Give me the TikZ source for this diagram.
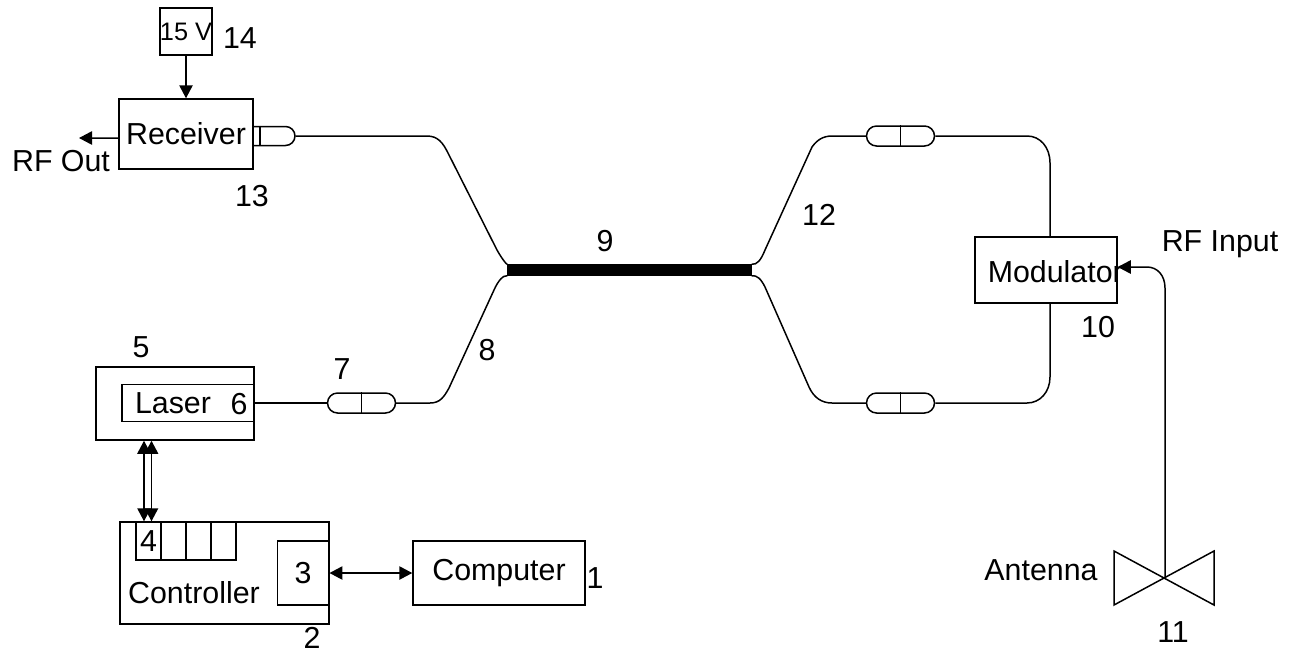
\documentclass[tikz,border=0pt]{standalone}
\usepackage{fontspec}
\setmainfont{Liberation Sans}
\usetikzlibrary{arrows.meta,shapes.misc}
\begin{document}
\begin{tikzpicture}[
  x=0.02cm, y=-0.02cm,
  line width=0.85pt,
  >={Triangle[length=7.4pt,width=7.6pt]},
  font=\LARGE,
  block/.style={rectangle, draw, inner sep=0pt},
  coupler/.style={rounded rectangle, draw, inner sep=0pt, minimum width=1.36cm, minimum height=0.4cm},
  lbl/.style={inner sep=0pt}
]
\useasboundingbox (0,0) rectangle (1290,653);

\node[block, minimum width=1cm, minimum height=0.94cm, font=\Large] (supply) at (186,31.5) {15 V};
\node[block, minimum width=2.68cm, minimum height=1.4cm] (recv) at (186,134) {Receiver};
\node[rounded rectangle, rounded rectangle left arc=none, draw, inner sep=0pt, minimum width=0.84cm, minimum height=0.38cm] (plug) at (274,136) {};
\node[block, minimum width=3.16cm, minimum height=1.46cm] (housing) at (175,403.5) {};
\node[block, minimum width=2.64cm, minimum height=0.74cm] (laser) at (188,403) {};
\node[coupler] (coupa) at (361.5,403) {};
\node[coupler] (coupb) at (900.5,136) {};
\node[coupler] (coupc) at (900.5,403) {};
\node[block, fill=black, minimum width=4.86cm, minimum height=0.2cm] (bar) at (629.5,270) {};
\node[block, minimum width=2.84cm, minimum height=1.32cm] (mod) at (1046,270) {};
\node[block, minimum width=4.18cm, minimum height=2.04cm] (ctrl) at (224.5,573) {};
\node[block, minimum width=1.03cm, minimum height=1.28cm] (port) at (303,573) {3};
\node[block, minimum width=0.5cm, minimum height=0.76cm] (slota) at (148.5,541) {4};
\node[block, minimum width=0.5cm, minimum height=0.76cm] (slotb) at (173.5,541) {};
\node[block, minimum width=0.5cm, minimum height=0.76cm] (slotc) at (198.5,541) {};
\node[block, minimum width=0.5cm, minimum height=0.76cm] (slotd) at (223.5,541) {};
\node[block, minimum width=3.44cm, minimum height=1.28cm] (comp) at (499,573) {Computer};

\node[lbl] (l14) at (240,38) {14};
\node[lbl] (l13) at (252,196) {13};
\node[lbl] (rfout) at (61,161) {RF Out};
\node[lbl] (l5) at (141,347) {5};
\node[lbl] (lasertxt) at (173,403) {Laser};
\node[lbl] (l6) at (239,404) {6};
\node[lbl] (l7) at (342,369) {7};
\node[lbl] (l8) at (487,350) {8};
\node[lbl] (l9) at (605,241) {9};
\node[lbl] (l12) at (819,215) {12};
\node[lbl, anchor=west] (modtxt) at (987,272) {Modulator};
\node[lbl] (l10) at (1098,327) {10};
\node[lbl] (rfin) at (1220,244) {RF Input};
\node[lbl] (anttxt) at (1041,570) {Antenna};
\node[lbl] (l11) at (1173,632) {11};
\node[lbl] (ctrltxt) at (194,593) {Controller};
\node[lbl] (l2) at (312,638) {2};
\node[lbl] (l1) at (595,578) {1};

\coordinate (out) at (79,138);
\coordinate (ant) at (1165,578);

\draw[->] (supply) -- (supply |- recv.north);
\draw[->] ([yshift=-0.08cm]recv.west) -- (out);
\draw ([xshift=-0.28cm]plug.north) -- ([xshift=-0.28cm]plug.south);
\draw (coupa.north) -- (coupa.south);
\draw (coupb.north) -- (coupb.south);
\draw (coupc.north) -- (coupc.south);

\draw (plug.east) -- (427,136) .. controls (438,136) and (443,143) .. (448,153) -- (497,250) .. controls (502,259) and (507,265) .. (bar.north west);
\draw (laser.east) -- (coupa.west);
\draw (coupa.east) -- (430,403) .. controls (440,403) and (444,397) .. (449,388) -- (494,290) .. controls (498,281) and (503,275) .. (bar.south west);
\draw (bar.north east) .. controls (757,265) and (761,260) .. (765,250) -- (812,147) .. controls (817,140) and (823,136) .. (832,136) -- (coupb.west);
\draw (coupb.east) -- (1027,136) .. controls (1040,136) and (1050,147) .. (1050,163) -- ([xshift=0.08cm]mod.north);
\draw (bar.south east) .. controls (757,275) and (761,279) .. (765,287) -- (809,387) .. controls (814,398) and (822,403) .. (832,403) -- (coupc.west);
\draw (coupc.east) -- (1027,403) .. controls (1040,403) and (1050,392) .. (1050,377) -- ([xshift=0.08cm]mod.south);

\draw[<->] ([xshift=-0.09cm]slota.north |- housing.south) -- ([xshift=-0.09cm]slota.north);
\draw[<->] ([xshift=0.06cm]slota.north |- housing.south) -- ([xshift=0.06cm]slota.north);
\draw[<->] (port.east) -- (comp.west);

\draw (1114,551) -- (1214,605) -- (1214,551) -- (1114,605) -- cycle;
\draw[->] (ant) -- (1165,288) .. controls (1165,275) and (1157,267) .. (1147,267) -- ([yshift=0.06cm]mod.east);
\end{tikzpicture}
\end{document}
